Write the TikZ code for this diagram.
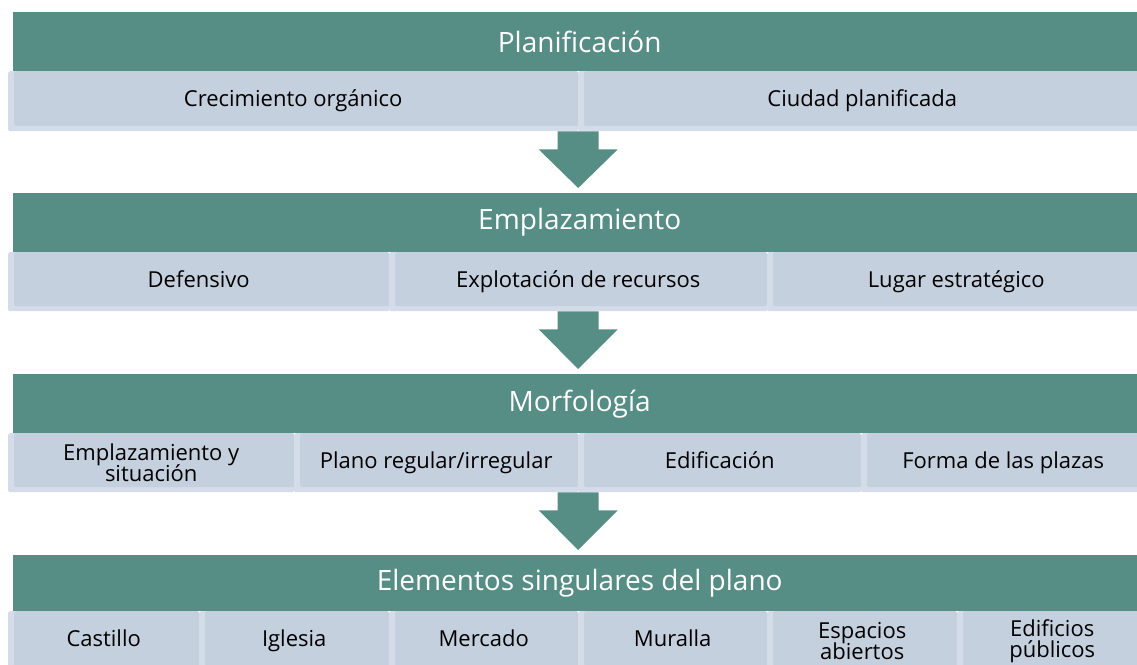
\documentclass[tikz,border=0pt]{standalone}
\usepackage{fontspec}
\setmainfont{Open Sans}
\usetikzlibrary{calc}

\definecolor{verde}{RGB}{86,142,134}
\definecolor{celdafondo}{RGB}{197,208,222}
\definecolor{celdaborde}{RGB}{212,219,233}
\setlength{\lineskiplimit}{-20pt}

\tikzset{
  cabecera/.style={fill=verde, text=white, anchor=north west, inner sep=0pt,
    minimum height=59pt, minimum width=1133pt, font=\fontsize{28}{32}\selectfont},
  celda/.style={fill=celdaborde, rounded corners=2pt, anchor=north west, inner sep=0pt,
    align=center, font=\fontsize{22}{21}\selectfont,
    text height=16pt, text depth=5pt,
    path picture={\fill[celdafondo] ([xshift=6pt]path picture bounding box.north west)
      rectangle ([yshift=5pt]path picture bounding box.south east);}},
  una/.style={},
  dos/.style={text height=, text depth=}
}

% flecha hacia abajo: #1 celda de la fila de arriba, #2 cabecera de abajo
\newcommand{\flecha}[2]{%
  \coordinate (ini) at (#1.south -| #2.north);
  \coordinate (fin) at ($(#2.north)+(-1.5,-5)$);
  \fill[verde] ($(ini)+(-22,0)$) -- ($(ini)+(19,0)$) -- ($(ini)+(19,18)$)
    -- ($(ini)+(38,18)$) -- (fin) -- ($(ini)+(-41,18)$) -- ($(ini)+(-22,18)$) -- cycle;}

\begin{document}
\begin{tikzpicture}[x=1pt,y=-1pt]
	\useasboundingbox (0,0) rectangle (1137,664);
	\clip (0,0) rectangle (1137,664);

	% filas de celdas
	\foreach \i/\x/\w/\s/\t in {1/8/570/una/{Crecimiento orgánico}, 2/578/568/una/{Ciudad planificada}}
		\node[celda, \s, minimum width=\w pt, minimum height=60pt] (c1-\i) at (\x,71) {\t};
	\foreach \i/\x/\w/\s/\t in {1/8/381/una/Defensivo, 2/389/378/una/{Explotación de recursos},
		3/767/378/una/{Lugar estratégico}}
		\node[celda, \s, minimum width=\w pt, minimum height=59pt] (c2-\i) at (\x,252) {\t};
	\foreach \i/\x/\w/\s/\t in {1/8/286/dos/{Emplazamiento y\\situación}, 2/294/284/una/{Plano regular/irregular},
		3/578/283/una/Edificación, 4/861/284/una/{Forma de las plazas}}
		\node[celda, \s, minimum width=\w pt, minimum height=59pt] (c3-\i) at (\x,433) {\t};
	\foreach \i/\x/\w/\s/\t in {1/8/191/una/Castillo, 2/199/190/una/Iglesia, 3/389/189/una/Mercado,
		4/578/189/una/Muralla, 5/767/190/dos/{Espacios\\abiertos}, 6/957/190/dos/{Edificios\\públicos}}
		\node[celda, \s, minimum width=\w pt, minimum height=60pt] (c4-\i) at (\x,611) {\t};

	% cabeceras
	\node[cabecera] (h1) at (13,12) {Planificación};
	\node[cabecera] (h2) at (13,193) {Emplazamiento};
	\node[cabecera] (h3) at (13,374) {Morfología};
	\node[cabecera, minimum height=56pt] (h4) at (13,555) {Elementos singulares del plano};

	% flechas
	\flecha{c1-1}{h2}
	\flecha{c2-1}{h3}
	\flecha{c3-1}{h4}
\end{tikzpicture}
\end{document}
